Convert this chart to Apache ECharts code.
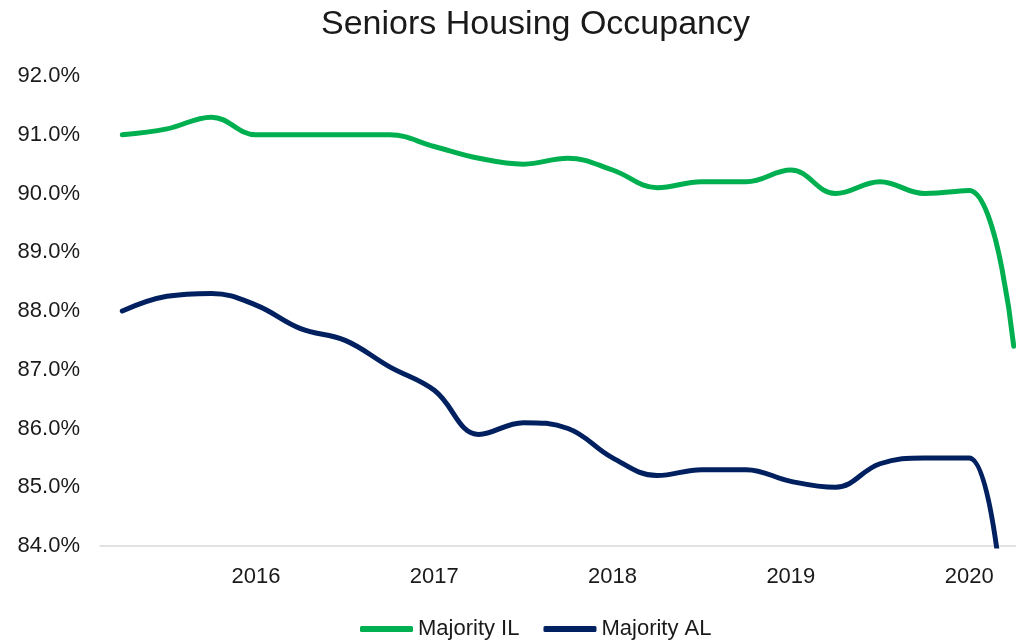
<!DOCTYPE html>
<html>
<head>
<meta charset="utf-8">
<title>Seniors Housing Occupancy</title>
<script src="https://cdn.jsdelivr.net/npm/echarts@6/dist/echarts.min.js"></script>
<style>
  html, body { margin: 0; padding: 0; background: #fff; }
  #chart { width: 1016px; height: 640px; }
</style>
</head>
<body>
<div id="chart"></div>
<script>
// quarterly, 2Q2015 .. 2Q2020
const quarters = [
  '2015 Q2', '2015 Q3', '2015 Q4',
  '2016 Q1', '2016 Q2', '2016 Q3', '2016 Q4',
  '2017 Q1', '2017 Q2', '2017 Q3', '2017 Q4',
  '2018 Q1', '2018 Q2', '2018 Q3', '2018 Q4',
  '2019 Q1', '2019 Q2', '2019 Q3', '2019 Q4',
  '2020 Q1', '2020 Q2'
]
// year shown under the first quarter of each year
const tickLabels = [
  '', '', '',
  '2016', '', '', '',
  '2017', '', '', '',
  '2018', '', '', '',
  '2019', '', '', '',
  '2020', ''
]
const majorityIL = [
  91.0, 91.1, 91.3,
  91.0, 91.0, 91.0, 91.0,
  90.8, 90.6, 90.5, 90.6,
  90.4, 90.1, 90.2, 90.2,
  90.4, 90.0, 90.2, 90.0,
  90.05, 87.4
]
const majorityAL = [
  88.0, 88.25, 88.3,
  88.1, 87.7, 87.5, 87.05,
  86.65, 85.9, 86.1, 86.0,
  85.5, 85.2, 85.3, 85.3,
  85.1, 85.0, 85.4, 85.5,
  85.5, 80.6
]
const yTicks = { min: 84, max: 92, step: 1 }

const font = 'Liberation Sans, Arial, sans-serif'
const textColor = '#1a1a1a'

const myChart = echarts.init(document.getElementById('chart'))

myChart.setOption({
  animation: false,
  title: {
    text: 'Seniors Housing Occupancy',
    left: 316,
    top: 3,
    textStyle: {
      fontFamily: font,
      fontSize: 34,
      fontWeight: 'normal',
      color: textColor
    }
  },
  legend: {
    left: 355,
    top: 613,
    itemWidth: 53,
    itemHeight: 6,
    itemGap: 24,
    icon: 'roundRect',
    textStyle: {
      fontFamily: font,
      fontSize: 22,
      color: textColor
    },
    data: ['Majority IL', 'Majority AL']
  },
  grid: {
    left: 100,
    top: 76,
    width: 936,
    height: 470,
    outerBoundsMode: 'none'
  },
  xAxis: {
    type: 'category',
    data: quarters,
    boundaryGap: true,
    axisLine: { lineStyle: { color: '#d9d9d9', width: 1.5 } },
    axisTick: { show: false },
    axisLabel: {
      interval: 0,
      margin: 20,
      fontFamily: font,
      fontSize: 22,
      color: textColor,
      formatter: (v, i) => tickLabels[i]
    },
    splitLine: { show: false }
  },
  yAxis: {
    type: 'value',
    min: yTicks.min,
    max: yTicks.max,
    interval: yTicks.step,
    axisLine: { show: false },
    axisTick: { show: false },
    splitLine: { show: false },
    axisLabel: {
      margin: 20,
      fontFamily: font,
      fontSize: 22,
      color: textColor,
      formatter: v => v.toFixed(1) + '%'
    }
  },
  series: [
    {
      name: 'Majority IL',
      type: 'line',
      data: majorityIL,
      smooth: 0.4,
      symbol: 'none',
      clip: true,
      itemStyle: { color: '#00b050' },
      lineStyle: { color: '#00b050', width: 5, cap: 'round', join: 'round' }
    },
    {
      name: 'Majority AL',
      type: 'line',
      data: majorityAL,
      smooth: 0.4,
      symbol: 'none',
      clip: true,
      itemStyle: { color: '#002060' },
      lineStyle: { color: '#002060', width: 5, cap: 'round', join: 'round' }
    }
  ]
})
</script>
</body>
</html>
